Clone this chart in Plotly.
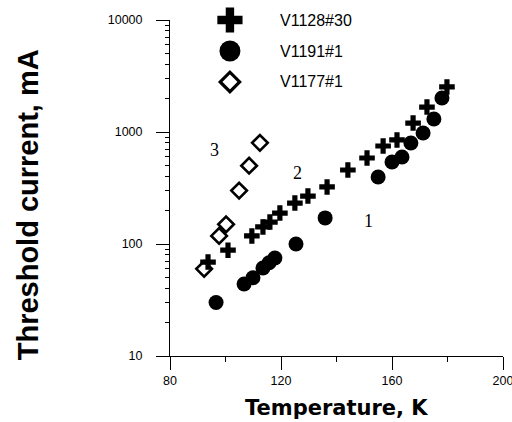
import math
import plotly.graph_objects as go

# Sample V1128#30 (curve 2)
t_v1128 = [93.7, 100.9, 109.5, 113.5, 116.0, 119.6, 125.0, 129.7, 136.6,
           144.1, 151.0, 156.8, 161.8, 167.6, 172.6, 179.8]
i_v1128 = [69, 88, 118, 142, 157, 189, 232, 268, 323,
           458, 586, 750, 849, 1202, 1671, 2524]

# Sample V1191#1 (curve 1)
t_v1191 = [96.6, 106.7, 109.9, 113.5, 115.7, 117.8, 125.4, 135.9,
           155.0, 160.0, 163.6, 166.8, 171.2, 175.1, 178.0]
i_v1191 = [30, 44, 50, 61, 68, 75, 100, 171,
           396, 540, 598, 798, 979, 1306, 2014]

# Sample V1177#1 (curve 3)
t_v1177 = [92.3, 97.7, 100.2, 104.9, 108.5, 112.4]
i_v1177 = [60, 118, 150, 300, 500, 800]

# Curve numbers placed next to each data set
curve_labels = ["1", "2", "3"]
curve_label_t = [151.4, 125.8, 96.2]
curve_label_i = [160, 430, 690]

legend_names = ["V1128#30", "V1191#1", "V1177#1"]

BLACK = "black"
fig = go.Figure()

fig.add_trace(go.Scatter(
    x=t_v1177, y=i_v1177, mode="markers", name=legend_names[2],
    marker=dict(symbol="diamond", size=12, color="white",
                line=dict(color=BLACK, width=2.6)),
    cliponaxis=False, showlegend=False))
fig.add_trace(go.Scatter(
    x=t_v1128, y=i_v1128, mode="markers", name=legend_names[0],
    marker=dict(symbol="cross", size=13, color=BLACK, line=dict(width=0)),
    cliponaxis=False, showlegend=False))
fig.add_trace(go.Scatter(
    x=t_v1191, y=i_v1191, mode="markers", name=legend_names[1],
    marker=dict(symbol="circle", size=15, color=BLACK, line=dict(width=0)),
    cliponaxis=False, showlegend=False))

# Key: one row per sample on a hidden overlay axis (row index -> y2)
key_symbols = ["cross", "circle", "diamond"]
key_sizes = [21, 21, 15]
key_colors = [BLACK, BLACK, "white"]
key_lines = [0, 0, 3.2]
for row, name in enumerate(legend_names):
    fig.add_trace(go.Scatter(
        x=[0.18], y=[row], xaxis="x2", yaxis="y2", mode="markers",
        marker=dict(symbol=key_symbols[row], size=key_sizes[row],
                    color=key_colors[row],
                    line=dict(color=BLACK, width=key_lines[row])),
        cliponaxis=False, showlegend=False, hoverinfo="skip"))
    fig.add_annotation(
        x=0.325, y=row, xref="x2", yref="y2", text=name, showarrow=False,
        xanchor="left", yanchor="middle",
        font=dict(family="Liberation Sans, Arial", size=16, color=BLACK))

# Log axis: annotation positions are given in log10 units
for lab, t, i in zip(curve_labels, curve_label_t, curve_label_i):
    fig.add_annotation(
        x=t, y=math.log10(i), xref="x", yref="y", text=lab, showarrow=False,
        font=dict(family="Liberation Serif, Times New Roman", size=18,
                  color=BLACK))

tick_font = dict(family="Liberation Sans, Arial", size=12.5, color=BLACK)

fig.update_layout(
    width=512, height=422,
    margin=dict(l=170, r=9, t=20, b=66),
    paper_bgcolor="white", plot_bgcolor="white",
    showlegend=False,
    xaxis=dict(
        range=[80, 200], tickvals=[80, 120, 160, 200],
        showline=True, linecolor=BLACK, linewidth=1,
        ticks="outside", ticklen=13, tickwidth=1, tickcolor=BLACK,
        minor=dict(tickvals=[100, 140, 180], ticks="outside", ticklen=5,
                   tickcolor=BLACK, showgrid=False),
        showgrid=False, zeroline=False, tickfont=tick_font,
        ticklabeloverflow="allow", automargin=False,
    ),
    yaxis=dict(
        type="log", range=[1, 4],
        tickvals=[10, 100, 1000, 10000],
        ticktext=["10", "100", "1000", "10000"],
        showline=True, linecolor=BLACK, linewidth=1,
        ticks="outside", ticklen=13, tickwidth=1, tickcolor=BLACK,
        minor=dict(dtick="D1", ticks="outside", ticklen=4,
                   tickcolor=BLACK, showgrid=False),
        showgrid=False, zeroline=False, tickfont=tick_font,
        ticklabelstandoff=11, automargin=False,
    ),
    xaxis2=dict(overlaying="x", range=[0, 1], visible=False),
    yaxis2=dict(overlaying="y", range=[10.84, 0], visible=False),
)

# Axis titles
fig.add_annotation(
    x=0.5015, y=-0.155, xref="paper", yref="paper",
    text="<b>Temperature, K</b>", showarrow=False,
    xanchor="center", yanchor="middle",
    font=dict(family="DejaVu Sans", size=21, color=BLACK))
fig.add_annotation(
    x=-0.426, y=0.449, xref="paper", yref="paper",
    text="<b>Threshold current, mA</b>", showarrow=False, textangle=-90,
    xanchor="center", yanchor="middle",
    font=dict(family="Liberation Sans, Arial", size=29, color=BLACK))

fig.write_html("out.html")
